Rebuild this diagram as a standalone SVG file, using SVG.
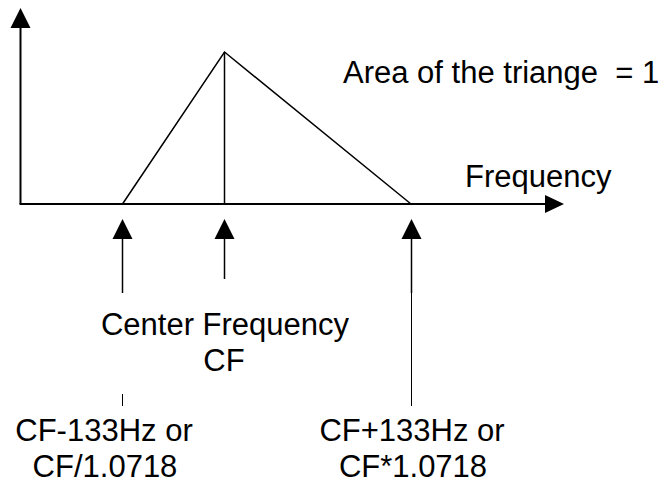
<svg xmlns="http://www.w3.org/2000/svg" width="668" height="483" viewBox="0 0 668 483">
<style>
.ln{stroke:#000;fill:none;stroke-width:2}
.th{stroke:#000;fill:none;stroke-width:1.5}
.tn{stroke:#000;fill:none;stroke-width:1}
.ah{fill:#000;stroke:none}
text{font-family:"Liberation Sans",Arial,sans-serif;font-size:31px;fill:#000;white-space:pre}
</style>
<rect width="668" height="483" fill="#fff"/>
<g id="connectors">
<line class="ln" x1="20.5" y1="204" x2="20.5" y2="27"/>
<polygon class="ah" points="20.5,8 10.5,28 30.5,28"/>
<line class="ln" x1="19.5" y1="204" x2="547" y2="204"/>
<polygon class="ah" points="564,204 545,195 545,213"/>
<polyline class="th" points="122.5,204 224.5,52 411,204"/>
<line class="th" x1="224.5" y1="52" x2="224.5" y2="204"/>
<line class="th" x1="122.5" y1="238" x2="122.5" y2="293"/>
<polygon class="ah" points="122.5,219 112.5,239 132.5,239"/>
<line class="th" x1="224.5" y1="238" x2="224.5" y2="279"/>
<polygon class="ah" points="224.5,219 214.5,239 234.5,239"/>
<line class="th" x1="411.5" y1="238" x2="411.5" y2="293"/>
<line class="tn" x1="411.5" y1="293" x2="411.5" y2="406"/>
<polygon class="ah" points="411.5,219 401.5,239 421.5,239"/>
<line class="tn" x1="122.5" y1="394" x2="122.5" y2="406"/>
</g>
<g id="area-label"><text x="343" y="83">Area of the triange  = 1</text></g>
<g id="freq-label"><text x="465" y="187">Frequency</text></g>
<g id="center-label"><text x="225" y="335" text-anchor="middle">Center Frequency</text><text x="224" y="371" text-anchor="middle">CF</text></g>
<g id="low-label"><text x="104" y="441" text-anchor="middle">CF-133Hz or</text><text x="105" y="477" text-anchor="middle">CF/1.0718</text></g>
<g id="high-label"><text x="412" y="441" text-anchor="middle">CF+133Hz or</text><text x="413" y="477" text-anchor="middle">CF*1.0718</text></g>
</svg>
